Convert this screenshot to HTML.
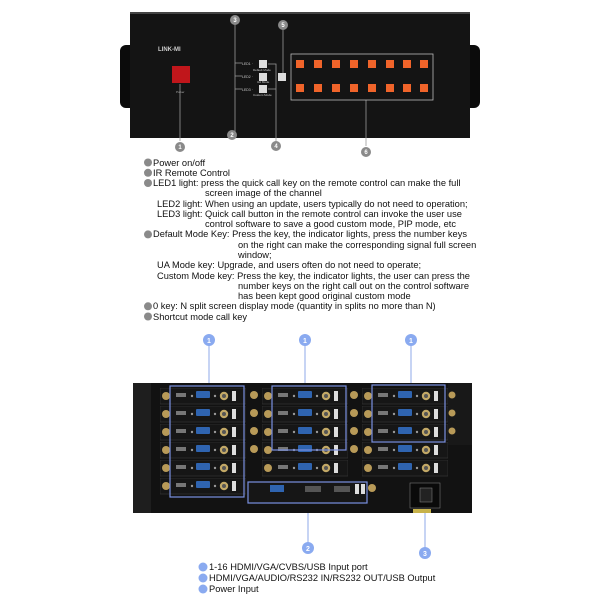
<!DOCTYPE html>
<html><head><meta charset="utf-8"><style>
body{margin:0;background:#fff;width:600px;height:600px;overflow:hidden;position:relative;font-family:"Liberation Sans",Arial,sans-serif}
svg{position:absolute;left:0;top:0}
.t{position:absolute;font-size:9.3px;color:#111;white-space:nowrap;line-height:10px}
</style></head><body>
<svg width="600" height="600" viewBox="0 0 600 600">
<defs>
<symbol id="card" viewBox="0 0 86 17" width="86" height="17">
<rect x="0" y="0" width="86" height="16" fill="#161616" stroke="#3a3a3a" stroke-width="0.6"/>
<circle cx="6" cy="8" r="4" fill="#b89a58"/>
<rect x="16" y="5" width="10" height="4" fill="#777"/>
<circle cx="32" cy="8" r="1.2" fill="#999"/>
<rect x="36" y="3" width="14" height="7" rx="1" fill="#2f64b0"/>
<circle cx="55" cy="8" r="1.2" fill="#999"/>
<circle cx="64" cy="8" r="4.2" fill="#c2a866"/><circle cx="64" cy="8" r="2" fill="#555"/>
<rect x="72" y="3" width="4" height="10" fill="#ddd"/>
</symbol>
<symbol id="key" viewBox="0 0 8 8" width="8" height="8"><rect width="8" height="8" fill="#f0642a"/></symbol>
</defs>
<rect x="120" y="45" width="30" height="63" rx="6" fill="#0b0b0b"/>
<rect x="452" y="45" width="28" height="63" rx="6" fill="#0b0b0b"/>
<rect x="130" y="12" width="340" height="126" fill="#141414"/>
<rect x="130" y="12" width="340" height="2" fill="#444"/>
<text x="158" y="51" font-size="6" fill="#ccc" font-weight="bold" font-family="Liberation Sans">LINK-MI</text>
<rect x="172" y="66" width="18" height="17" fill="#c0161b"/>
<text x="176" y="93" font-size="3" fill="#aaa">Power</text>
<g stroke="#999" stroke-width="0.8" fill="none">
<path d="M235 24V132M235 63H242M235 76H242M235 89H242"/>
<path d="M268 64H276V142M268 89H276"/>
<path d="M283 30V73"/>
<path d="M366 100V146"/>
<path d="M180 84V141"/>
</g>
<text x="242" y="65" font-size="3.5" fill="#ccc">LED1 ·</text>
<text x="242" y="78" font-size="3.5" fill="#ccc">LED2 ·</text>
<text x="242" y="91" font-size="3.5" fill="#ccc">LED3 ·</text>
<rect x="259" y="60" width="8" height="8" fill="#ddd"/>
<rect x="259" y="73" width="8" height="8" fill="#ddd"/>
<rect x="259" y="85" width="8" height="8" fill="#ddd"/>
<rect x="278" y="73" width="8" height="8" fill="#ddd"/>
<text x="253" y="71" font-size="3" fill="#ccc">Default Mode</text>
<text x="257" y="83" font-size="3" fill="#ccc">UA Mode</text>
<text x="253" y="96" font-size="3" fill="#ccc">Custom Mode</text>
<rect x="291" y="54" width="142" height="46" fill="none" stroke="#bbb" stroke-width="0.8"/>
<g>
<use href="#key" x="296" y="60"/><use href="#key" x="314" y="60"/><use href="#key" x="332" y="60"/><use href="#key" x="350" y="60"/><use href="#key" x="368" y="60"/><use href="#key" x="386" y="60"/><use href="#key" x="403" y="60"/><use href="#key" x="420" y="60"/>
<use href="#key" x="296" y="84"/><use href="#key" x="314" y="84"/><use href="#key" x="332" y="84"/><use href="#key" x="350" y="84"/><use href="#key" x="368" y="84"/><use href="#key" x="386" y="84"/><use href="#key" x="403" y="84"/><use href="#key" x="420" y="84"/>
</g>
<g fill="#8a8a8a">
<circle cx="180" cy="147" r="5"/><circle cx="232" cy="135" r="5"/><circle cx="235" cy="20" r="5"/>
<circle cx="283" cy="25" r="5"/><circle cx="276" cy="146" r="5"/><circle cx="366" cy="152" r="5"/>
<circle cx="148" cy="162.5" r="4"/><circle cx="148" cy="172.8" r="4"/><circle cx="148" cy="183" r="4"/>
<circle cx="148" cy="234.4" r="4"/><circle cx="148" cy="306.3" r="4"/><circle cx="148" cy="316.5" r="4"/>
</g>
<g fill="#fff" font-size="6" text-anchor="middle" font-weight="bold">
<text x="180" y="149">1</text><text x="232" y="137">2</text><text x="235" y="22">3</text><text x="283" y="27">5</text><text x="276" y="148">4</text><text x="366" y="154">6</text>
</g>
<g stroke="#8fa8e8" stroke-width="1">
<path d="M209 345V386M305 345V386M411 345V385M308 503V543M425 510V548"/>
</g>
<rect x="133" y="383" width="339" height="130" fill="#121212"/>
<rect x="133" y="383" width="18" height="130" fill="#1e1e1e"/>
<rect x="448" y="383" width="24" height="62" fill="#181818"/>
<g>
<use href="#card" x="160" y="388"/><use href="#card" x="160" y="406"/><use href="#card" x="160" y="424"/><use href="#card" x="160" y="442"/><use href="#card" x="160" y="460"/><use href="#card" x="160" y="478"/>
<use href="#card" x="262" y="388"/><use href="#card" x="262" y="406"/><use href="#card" x="262" y="424"/><use href="#card" x="262" y="442"/><use href="#card" x="262" y="460"/>
<use href="#card" x="362" y="388"/><use href="#card" x="362" y="406"/><use href="#card" x="362" y="424"/><use href="#card" x="362" y="442"/><use href="#card" x="362" y="460"/>
</g>
<g fill="#b89a58"><circle cx="254" cy="395" r="4"/><circle cx="254" cy="413" r="4"/><circle cx="254" cy="431" r="4"/><circle cx="254" cy="449" r="4"/><circle cx="354" cy="395" r="4"/><circle cx="354" cy="413" r="4"/><circle cx="354" cy="431" r="4"/><circle cx="354" cy="449" r="4"/><circle cx="452" cy="395" r="3.5"/><circle cx="452" cy="413" r="3.5"/><circle cx="452" cy="431" r="3.5"/><circle cx="372" cy="488" r="4"/></g>
<rect x="249" y="482" width="118" height="20" fill="#161616"/>
<rect x="270" y="485" width="14" height="7" fill="#2f64b0"/>
<rect x="305" y="486" width="16" height="6" fill="#555"/><rect x="334" y="486" width="16" height="6" fill="#555"/>
<rect x="355" y="484" width="4" height="10" fill="#ddd"/><rect x="361" y="484" width="4" height="10" fill="#ddd"/>
<rect x="410" y="483" width="30" height="25" fill="#0a0a0a" stroke="#777" stroke-width="0.6"/>
<rect x="420" y="488" width="12" height="14" fill="#222" stroke="#888" stroke-width="0.5"/>
<rect x="413" y="509" width="18" height="4" fill="#c7b24a"/>
<g fill="none" stroke="#7a90e0" stroke-width="1.2">
<rect x="170" y="386" width="74" height="111"/>
<rect x="272" y="386" width="74" height="64"/>
<rect x="372" y="385" width="73" height="57"/>
<rect x="248" y="482" width="119" height="21"/>
</g>
<g fill="#8aaaf0">
<circle cx="209" cy="340" r="6"/><circle cx="305" cy="340" r="6"/><circle cx="411" cy="340" r="6"/>
<circle cx="308" cy="548" r="6"/><circle cx="425" cy="553" r="6"/>
<circle cx="203" cy="567" r="4.5"/><circle cx="203" cy="578" r="4.5"/><circle cx="203" cy="589" r="4.5"/>
</g>
<g fill="#fff" font-size="7" text-anchor="middle" font-weight="bold">
<text x="209" y="343">1</text><text x="305" y="343">1</text><text x="411" y="343">1</text><text x="308" y="551">2</text><text x="425" y="556">3</text>
</g>
</svg>
<div class="t" style="left:153px;top:157.5px">Power on/off</div>
<div class="t" style="left:153px;top:167.8px">IR Remote Control</div>
<div class="t" style="left:153px;top:178px">LED1 light: press the quick call key on the remote control can make the full</div>
<div class="t" style="left:205px;top:188.3px">screen image of the channel</div>
<div class="t" style="left:157px;top:198.6px">LED2 light: When using an update, users typically do not need to operation;</div>
<div class="t" style="left:157px;top:208.9px">LED3 light: Quick call button in the remote control can invoke the user use</div>
<div class="t" style="left:205px;top:219.1px">control software to save a good custom mode, PIP mode, etc</div>
<div class="t" style="left:153px;top:229.4px">Default Mode Key: Press the key, the indicator lights, press the number keys</div>
<div class="t" style="left:238px;top:239.7px">on the right can make the corresponding signal full screen</div>
<div class="t" style="left:238px;top:250px">window;</div>
<div class="t" style="left:157px;top:260.2px">UA Mode key: Upgrade, and users often do not need to operate;</div>
<div class="t" style="left:157px;top:270.5px">Custom Mode key: Press the key, the indicator lights, the user can press the</div>
<div class="t" style="left:238px;top:280.8px">number keys on the right call out on the control software</div>
<div class="t" style="left:238px;top:291px">has been kept good original custom mode</div>
<div class="t" style="left:153px;top:301.3px">0 key: N split screen display mode (quantity in splits no more than N)</div>
<div class="t" style="left:153px;top:311.5px">Shortcut mode call key</div>
<div class="t" style="left:209px;top:562px">1-16 HDMI/VGA/CVBS/USB Input port</div>
<div class="t" style="left:209px;top:573px">HDMI/VGA/AUDIO/RS232 IN/RS232 OUT/USB Output</div>
<div class="t" style="left:209px;top:584px">Power Input</div>
</body></html>
